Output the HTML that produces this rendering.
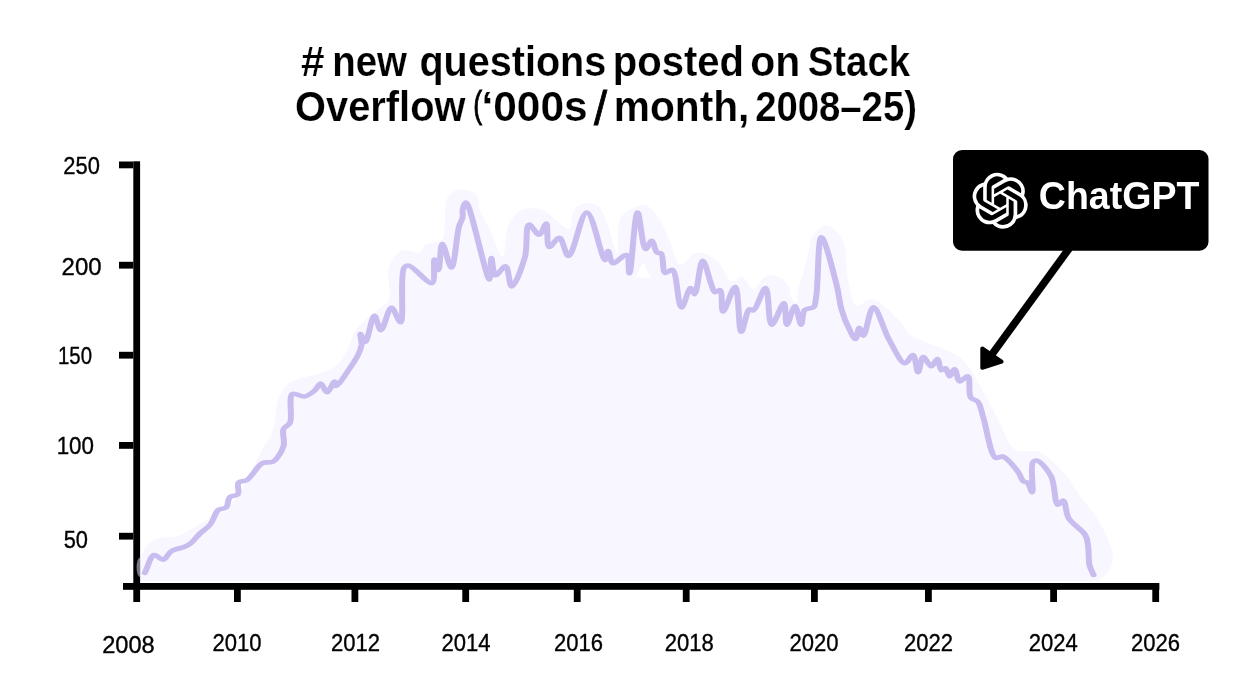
<!DOCTYPE html>
<html><head><meta charset="utf-8"><style>
html,body{margin:0;padding:0;background:#fff;width:1239px;height:690px;overflow:hidden}
svg{display:block;font-family:"Liberation Sans",sans-serif;will-change:transform}
</style></head><body>
<svg width="1239" height="690" viewBox="0 0 1239 690">
<defs><filter id="hb" x="-5%" y="-5%" width="110%" height="110%"><feGaussianBlur stdDeviation="0.45"/></filter></defs>
<path d="M137.0,581.0 C137.7,577.3 138.3,573.7 139.0,570.0 C139.7,566.1 139.8,561.9 141.0,558.0 C142.2,554.1 143.3,549.7 146.0,546.5 C148.9,543.1 153.2,540.3 158.0,538.5 C163.6,536.4 171.1,538.3 178.0,536.0 C186.6,533.2 196.2,526.1 205.0,521.0 C213.6,516.0 222.1,513.7 230.0,505.5 C241.8,493.3 254.8,462.4 262.6,448.7 C267.0,440.9 270.4,437.6 273.0,430.4 C276.1,421.6 275.0,407.5 278.3,399.1 C280.9,392.7 283.8,387.4 288.7,383.5 C294.0,379.3 303.5,377.5 309.6,375.7 C314.1,374.4 317.5,374.6 321.7,373.0 C326.9,371.0 333.8,368.3 338.3,364.0 C342.9,359.6 345.9,352.3 348.7,346.7 C351.1,341.9 352.1,336.9 354.5,332.8 C356.6,329.1 358.8,326.3 362.0,323.0 C366.0,318.9 372.3,314.5 377.0,310.5 C381.2,306.9 386.4,305.2 388.7,300.1 C391.9,292.9 386.4,277.2 388.7,268.8 C390.4,262.4 394.4,256.1 397.9,253.1 C400.3,251.0 402.8,250.3 405.8,250.0 C409.5,249.7 415.4,253.8 418.7,252.6 C421.6,251.6 422.1,246.9 425.2,244.9 C429.2,242.2 438.9,242.9 442.0,239.7 C444.4,237.2 443.9,233.8 444.6,229.4 C445.8,221.9 444.0,205.0 447.1,198.4 C448.9,194.5 452.1,192.2 454.9,190.7 C457.3,189.5 459.9,189.3 462.6,189.4 C465.8,189.5 470.3,190.3 473.0,192.0 C475.3,193.5 477.0,195.8 478.1,198.4 C479.3,201.3 478.2,204.7 479.4,208.7 C481.3,215.0 487.2,224.1 491.0,232.0 C494.9,240.2 499.7,257.4 502.6,257.0 C505.8,256.6 504.7,232.8 508.7,224.6 C511.7,218.4 515.7,213.0 520.9,210.4 C526.3,207.7 534.1,207.5 541.0,209.4 C550.1,211.9 564.8,230.6 569.5,228.7 C572.6,227.4 570.8,218.0 572.5,214.0 C573.9,210.8 575.6,207.8 578.0,206.0 C580.2,204.3 583.1,203.3 586.0,203.0 C589.3,202.7 594.0,203.0 597.0,205.0 C600.4,207.2 602.2,211.4 604.7,216.5 C608.9,225.1 614.6,253.3 617.2,253.0 C619.6,252.7 616.2,226.1 620.2,218.5 C622.9,213.4 627.9,210.6 632.4,208.4 C636.7,206.3 642.3,204.0 646.6,205.4 C651.7,207.1 656.2,214.8 660.0,220.6 C664.2,227.0 666.9,235.2 670.3,242.5 C673.7,249.9 675.7,263.6 680.4,264.8 C684.7,265.9 690.7,253.4 696.7,252.6 C702.9,251.8 711.4,256.2 717.0,260.7 C723.0,265.5 726.0,279.4 731.1,281.0 C734.6,282.1 738.8,276.0 742.3,276.9 C746.4,277.9 749.6,289.1 753.4,289.1 C757.2,289.1 761.1,278.7 765.0,276.7 C767.7,275.3 770.4,275.2 773.2,275.5 C776.2,275.8 779.9,277.0 782.5,279.0 C785.3,281.1 788.0,285.1 789.4,288.3 C790.6,291.1 789.7,294.6 791.0,297.0 C792.2,299.2 795.2,302.6 796.4,302.2 C797.9,301.7 797.0,294.3 798.0,290.0 C799.2,284.8 801.6,279.3 803.3,273.2 C805.3,266.1 807.5,256.7 809.1,250.0 C810.3,244.9 809.8,240.3 812.3,236.4 C815.2,231.9 821.7,225.0 826.5,225.2 C831.8,225.4 839.0,233.3 842.7,240.4 C847.6,249.9 845.4,268.4 848.0,280.0 C850.2,289.5 851.3,303.0 856.2,305.4 C860.2,307.3 866.6,298.3 872.5,299.3 C881.0,300.7 894.6,315.9 900.9,322.6 C904.8,326.7 904.4,329.9 909.0,333.8 C918.5,341.7 949.2,348.2 961.7,359.1 C971.6,367.7 975.8,379.2 982.0,389.5 C988.0,399.5 992.7,410.0 998.2,420.0 C1003.7,430.0 1007.3,444.5 1015.1,449.6 C1021.8,454.0 1032.0,448.7 1039.9,452.3 C1049.6,456.6 1060.6,469.3 1067.4,477.1 C1072.4,482.9 1074.1,487.4 1078.5,493.7 C1084.5,502.3 1094.7,513.3 1100.5,524.0 C1106.1,534.4 1112.6,548.3 1112.9,557.0 C1113.1,562.5 1111.3,566.9 1108.8,570.8 C1106.3,574.7 1101.3,578.9 1097.7,580.4 C1095.1,581.5 1092.6,580.8 1090.0,581.0 Z" fill="#f8f6fe" filter="url(#hb)"/>
<path d='M643.2,263.5 L636.5,277 L650.1,277.5 Z' fill='#fff' stroke='#fff' stroke-width='1.2' stroke-linejoin='round'/>
<path transform="scale(1.3,1)" d="M111.4,572.9 C113.8,566.9 115.5,555.9 118.6,555.0 C120.6,554.4 123.5,560.1 125.5,559.7 C127.9,559.3 129.0,553.4 131.7,551.2 C134.6,548.9 139.8,548.1 142.5,546.5 C144.4,545.4 145.4,544.7 146.9,543.2 C149.1,540.9 151.4,536.6 153.8,533.5 C156.3,530.4 159.6,528.0 161.8,524.4 C164.4,520.3 165.2,512.7 167.9,510.0 C169.7,508.3 172.5,509.1 173.9,507.4 C175.8,505.3 175.0,499.1 176.9,497.0 C178.4,495.3 181.7,496.1 182.9,494.4 C184.6,492.1 181.9,484.9 183.5,482.6 C184.8,480.8 187.8,481.8 190.0,480.0 C193.8,477.0 197.8,465.6 202.0,463.0 C204.6,461.4 207.7,463.4 210.0,461.7 C213.4,459.2 216.7,451.6 218.1,446.1 C219.4,440.7 216.7,433.3 218.1,429.1 C219.1,426.2 221.9,425.8 223.1,422.6 C225.3,416.6 221.5,396.4 225.1,393.9 C227.1,392.5 231.3,397.0 234.2,396.5 C237.1,396.0 240.0,392.7 242.2,390.4 C244.1,388.3 245.2,383.4 246.7,383.5 C248.3,383.6 249.9,392.2 251.5,392.2 C253.4,392.2 256.2,381.4 257.3,381.5 C258.0,381.6 257.7,385.9 258.5,386.0 C260.2,386.2 266.2,373.6 269.2,368.0 C271.6,363.4 273.9,359.1 275.4,355.0 C276.7,351.5 277.7,348.4 278.1,345.0 C278.4,341.4 276.7,334.2 277.3,334.0 C277.8,333.9 279.7,342.0 280.9,341.9 C283.1,341.7 285.7,315.9 288.0,315.8 C289.7,315.7 291.1,330.1 293.0,330.1 C295.4,330.1 298.3,308.0 301.1,307.9 C303.4,307.8 306.4,322.6 308.1,322.3 C311.2,321.7 307.4,274.3 310.8,268.0 C311.7,266.2 312.7,265.4 314.2,265.5 C318.0,265.8 328.9,284.3 332.2,283.1 C335.3,281.9 333.0,259.7 334.2,259.6 C334.9,259.5 336.4,270.1 337.2,270.0 C338.6,269.9 338.5,244.2 340.2,244.0 C341.9,243.9 345.3,267.6 347.2,267.5 C349.8,267.3 351.1,235.2 353.1,226.5 C354.0,222.4 355.4,220.5 355.8,217.5 C356.3,214.7 355.5,211.6 356.0,209.0 C356.5,206.6 357.4,202.4 358.5,202.5 C362.0,202.7 373.8,279.6 376.5,279.4 C377.9,279.3 377.1,258.1 378.0,258.1 C378.8,258.1 379.0,274.7 381.2,275.3 C383.0,275.8 386.9,265.7 388.9,266.2 C391.5,266.8 391.5,286.4 393.6,286.5 C396.2,286.6 401.5,267.3 403.8,257.1 C406.0,246.7 404.0,225.4 406.9,224.6 C408.8,224.1 412.5,235.0 414.7,234.8 C416.9,234.6 418.9,223.4 420.2,223.6 C421.9,223.9 420.0,246.2 422.5,247.0 C424.2,247.5 428.0,237.4 430.3,237.8 C433.2,238.3 434.7,256.1 437.3,256.0 C441.3,255.9 446.8,212.4 451.4,212.5 C456.2,212.6 462.7,260.1 465.4,260.1 C466.6,260.1 466.8,251.0 467.8,251.0 C468.9,251.0 469.3,262.5 471.6,263.2 C473.9,263.9 479.6,254.1 481.8,255.0 C484.3,256.0 483.2,273.3 484.2,273.3 C485.8,273.3 488.0,212.6 490.4,212.5 C492.3,212.4 493.9,248.5 496.6,249.0 C498.0,249.3 499.9,240.8 501.3,240.9 C502.9,241.0 503.6,250.8 505.5,252.6 C506.4,253.5 507.7,252.6 508.6,253.6 C510.7,256.0 509.3,271.7 511.7,272.9 C513.1,273.6 515.6,269.1 517.2,269.8 C521.0,271.6 521.3,307.2 524.2,307.4 C526.2,307.6 529.2,288.2 531.2,288.1 C532.4,288.0 533.3,294.3 534.3,294.2 C536.5,293.9 538.2,260.8 540.5,260.7 C542.5,260.6 545.1,277.2 546.8,283.0 C548.0,286.8 548.4,291.6 549.9,292.2 C551.0,292.6 552.8,289.6 553.8,290.1 C556.1,291.3 554.4,311.2 556.2,311.4 C558.1,311.7 563.2,286.8 565.5,287.1 C568.5,287.5 567.9,331.5 570.2,331.7 C571.9,331.8 573.9,310.8 576.5,309.4 C577.4,308.9 578.5,310.9 579.5,310.4 C582.4,309.1 586.6,287.8 588.9,288.1 C591.8,288.5 590.7,324.2 593.6,324.6 C595.9,324.9 601.1,303.0 603.0,303.3 C604.9,303.6 603.8,324.4 605.3,324.6 C606.7,324.8 609.7,306.2 611.5,306.3 C613.3,306.4 615.0,324.6 616.2,324.6 C617.3,324.6 617.2,312.7 618.8,310.3 C619.7,309.1 620.8,309.0 621.9,308.5 C623.1,308.0 624.8,308.3 625.8,307.2 C627.4,305.4 627.2,301.2 627.9,296.0 C629.5,284.1 629.0,237.6 631.8,237.4 C634.5,237.2 641.1,272.5 643.7,285.7 C645.5,294.8 645.6,301.4 647.2,308.9 C648.8,316.1 651.3,324.2 653.5,329.7 C655.0,333.5 656.8,339.1 658.1,339.0 C659.4,338.9 659.9,327.8 661.0,327.7 C661.9,327.6 662.9,335.9 664.1,335.8 C666.2,335.7 668.8,307.5 671.9,307.4 C675.2,307.3 679.4,329.1 683.6,338.8 C687.5,347.6 692.4,362.9 696.1,363.2 C698.3,363.4 700.7,354.7 702.3,355.0 C704.4,355.5 704.9,372.3 706.2,372.3 C707.5,372.3 708.2,357.4 710.2,357.1 C711.8,356.8 714.5,366.2 716.4,366.2 C718.1,366.2 719.8,358.9 721.1,359.1 C722.5,359.3 722.6,369.7 724.2,370.3 C725.0,370.6 726.4,367.9 727.3,368.2 C728.7,368.6 729.2,376.2 730.4,376.3 C731.5,376.4 733.1,369.1 734.3,369.2 C735.8,369.3 736.2,380.8 738.2,381.4 C739.8,381.9 743.0,375.7 744.5,376.3 C746.9,377.3 744.4,393.5 746.8,397.6 C748.1,399.9 750.8,399.5 752.2,401.7 C754.5,405.1 754.8,411.3 756.5,417.9 C759.0,428.3 761.6,455.3 766.0,457.9 C767.6,458.9 769.4,455.9 771.3,456.5 C774.8,457.7 780.3,467.0 783.0,471.6 C785.0,475.1 785.5,479.6 787.2,481.3 C788.2,482.2 789.5,481.6 790.4,482.6 C792.0,484.3 793.2,492.4 794.0,492.3 C795.4,492.1 792.2,465.6 794.6,462.0 C795.4,460.8 796.6,460.3 797.8,460.6 C800.5,461.4 805.8,469.6 808.4,475.8 C811.7,483.6 811.0,503.8 813.7,504.7 C814.9,505.1 816.7,500.3 817.9,500.6 C820.0,501.2 819.5,512.9 822.2,518.5 C825.0,524.4 832.5,529.8 834.8,535.0 C836.6,538.8 836.5,541.8 837.0,546.0 C837.7,551.5 837.1,560.0 838.1,565.3 C838.8,569.1 840.2,571.8 841.2,575.0" fill="none" stroke="#c8bdee" stroke-width="4.6" stroke-linecap="round" stroke-linejoin="round"/>
<rect x="133.3" y="161.3" width="6.8" height="440.7" fill="#000"/>
<rect x="123" y="583" width="1036.3" height="6.8" fill="#000"/>
<rect x="119" y="161.5" width="14.300000000000011" height="6.8" fill="#000"/>
<rect x="119" y="261.8" width="14.300000000000011" height="6.8" fill="#000"/>
<rect x="119" y="351.8" width="14.300000000000011" height="6.8" fill="#000"/>
<rect x="119" y="442" width="14.300000000000011" height="6.8" fill="#000"/>
<rect x="119" y="532.8" width="14.300000000000011" height="6.8" fill="#000"/>
<rect x="234" y="583" width="6.8" height="19" fill="#000"/>
<rect x="351.5" y="583" width="6.8" height="19" fill="#000"/>
<rect x="462.3" y="583" width="6.8" height="19" fill="#000"/>
<rect x="573.8" y="583" width="6.8" height="19" fill="#000"/>
<rect x="682.8" y="583" width="6.8" height="19" fill="#000"/>
<rect x="811" y="583" width="6.8" height="19" fill="#000"/>
<rect x="925" y="583" width="6.8" height="19" fill="#000"/>
<rect x="1050.2" y="583" width="6.8" height="19" fill="#000"/>
<rect x="1152.3" y="583" width="6.8" height="19" fill="#000"/>
<text x="99.8" y="174.4" text-anchor="end" stroke="#000" stroke-width="0.35" font-size="23" textLength="36.5" lengthAdjust="spacingAndGlyphs">250</text>
<text x="101.6" y="275.4" text-anchor="end" stroke="#000" stroke-width="0.35" font-size="23" textLength="40" lengthAdjust="spacingAndGlyphs">200</text>
<text x="92" y="364.4" text-anchor="end" stroke="#000" stroke-width="0.35" font-size="23" textLength="34" lengthAdjust="spacingAndGlyphs">150</text>
<text x="94" y="454.4" text-anchor="end" stroke="#000" stroke-width="0.35" font-size="23" textLength="37.3" lengthAdjust="spacingAndGlyphs">100</text>
<text x="88" y="548.4" text-anchor="end" stroke="#000" stroke-width="0.35" font-size="23" textLength="24.3" lengthAdjust="spacingAndGlyphs">50</text>
<text x="102.2" y="653.2" stroke="#000" stroke-width="0.35" font-size="23" textLength="52.5" lengthAdjust="spacingAndGlyphs">2008</text>
<text x="212.4" y="650.9" stroke="#000" stroke-width="0.35" font-size="23" textLength="49" lengthAdjust="spacingAndGlyphs">2010</text>
<text x="331" y="650.9" stroke="#000" stroke-width="0.35" font-size="23" textLength="49" lengthAdjust="spacingAndGlyphs">2012</text>
<text x="441.5" y="650.9" stroke="#000" stroke-width="0.35" font-size="23" textLength="49" lengthAdjust="spacingAndGlyphs">2014</text>
<text x="553.9" y="650.9" stroke="#000" stroke-width="0.35" font-size="23" textLength="49" lengthAdjust="spacingAndGlyphs">2016</text>
<text x="664.7" y="650.9" stroke="#000" stroke-width="0.35" font-size="23" textLength="49" lengthAdjust="spacingAndGlyphs">2018</text>
<text x="789.5" y="650.9" stroke="#000" stroke-width="0.35" font-size="23" textLength="49" lengthAdjust="spacingAndGlyphs">2020</text>
<text x="904" y="650.9" stroke="#000" stroke-width="0.35" font-size="23" textLength="49" lengthAdjust="spacingAndGlyphs">2022</text>
<text x="1028.8" y="650.9" stroke="#000" stroke-width="0.35" font-size="23" textLength="49" lengthAdjust="spacingAndGlyphs">2024</text>
<text x="1131" y="650.9" stroke="#000" stroke-width="0.35" font-size="23" textLength="49" lengthAdjust="spacingAndGlyphs">2026</text>
<path d='M140,557.6 A3.4,9.7 0 0 0 140,577 Z' fill='#7a7580'/>
<line x1='1069.5' y1='248' x2='990' y2='357' stroke='#000' stroke-width='7.5'/><path d='M982.3,348.5 L1001.6,361.7 L982.3,367.8 Z' fill='#000' stroke='#000' stroke-width='4' stroke-linejoin='round'/>
<rect x="953" y="150" width="255.5" height="100.7" rx="9" fill="#000"/>
<g transform="translate(972.2,172.8) scale(2.33)"><path d="M22.2819 9.8211a5.9847 5.9847 0 0 0-.5157-4.9108 6.0462 6.0462 0 0 0-6.5098-2.9A6.0651 6.0651 0 0 0 4.9807 4.1818a5.9847 5.9847 0 0 0-3.9977 2.9 6.0462 6.0462 0 0 0 .7427 7.0966 5.98 5.98 0 0 0 .511 4.9107 6.051 6.051 0 0 0 6.5146 2.9001A5.9847 5.9847 0 0 0 13.2599 24a6.0557 6.0557 0 0 0 5.7718-4.2058 5.9894 5.9894 0 0 0 3.9977-2.9001 6.0557 6.0557 0 0 0-.7475-7.0729zm-9.022 12.6081a4.4755 4.4755 0 0 1-2.8764-1.0408l.1419-.0804 4.7783-2.7582a.7948.7948 0 0 0 .3927-.6813v-6.7369l2.02 1.1686a.071.071 0 0 1 .038.052v5.5826a4.504 4.504 0 0 1-4.4945 4.4944zm-9.6607-4.1254a4.4708 4.4708 0 0 1-.5346-3.0137l.142.0852 4.783 2.7582a.7712.7712 0 0 0 .7806 0l5.8428-3.3685v2.3324a.0804.0804 0 0 1-.0332.0615L9.74 19.9502a4.4992 4.4992 0 0 1-6.1408-1.6464zM2.3408 7.8956a4.485 4.485 0 0 1 2.3655-1.9728V11.6a.7664.7664 0 0 0 .3879.6765l5.8144 3.3543-2.0201 1.1685a.0757.0757 0 0 1-.071 0l-4.8303-2.7865A4.504 4.504 0 0 1 2.3408 7.872zm16.5963 3.8558L13.1038 8.364 15.1192 7.2a.0757.0757 0 0 1 .071 0l4.8303 2.7913a4.4944 4.4944 0 0 1-.6765 8.1042v-5.6772a.79.79 0 0 0-.407-.667zm2.0107-3.0231l-.142-.0852-4.7735-2.7818a.7759.7759 0 0 0-.7854 0L9.409 9.2297V6.8974a.0662.0662 0 0 1 .0284-.0615l4.8303-2.7866a4.4992 4.4992 0 0 1 6.6802 4.66zM8.3065 12.863l-2.02-1.1638a.0804.0804 0 0 1-.038-.0567V6.0742a4.4992 4.4992 0 0 1 7.3757-3.4537l-.142.0805L8.704 5.459a.7948.7948 0 0 0-.3927.6813zm1.0976-2.3654l2.602-1.4998 2.6069 1.4998v2.9994l-2.5974 1.4997-2.6067-1.4997Z" fill="#fff"/></g>
<text x="1038.8" y="209.4" font-size="38" font-weight="bold" fill="#fff" textLength="160.6" lengthAdjust="spacingAndGlyphs">ChatGPT</text>
<text x="301.0" y="75.8" font-size="42.4" font-weight="bold" textLength="23.58" lengthAdjust="spacingAndGlyphs" stroke="#fff" stroke-width="0.2">#</text>
<text x="332.28" y="75.8" font-size="42.4" font-weight="bold" textLength="74.72" lengthAdjust="spacingAndGlyphs" stroke="#fff" stroke-width="0.2">new</text>
<text x="419.43" y="75.8" font-size="42.4" font-weight="bold" textLength="186.82" lengthAdjust="spacingAndGlyphs" stroke="#fff" stroke-width="0.2">questions</text>
<text x="612.87" y="75.8" font-size="42.4" font-weight="bold" textLength="131.22" lengthAdjust="spacingAndGlyphs" stroke="#fff" stroke-width="0.2">posted</text>
<text x="750.37" y="75.8" font-size="42.4" font-weight="bold" textLength="49.92" lengthAdjust="spacingAndGlyphs" stroke="#fff" stroke-width="0.2">on</text>
<text x="807.69" y="75.8" font-size="42.4" font-weight="bold" textLength="102.52" lengthAdjust="spacingAndGlyphs" stroke="#fff" stroke-width="0.2">Stack</text>
<text x="295.12" y="121" font-size="42.4" font-weight="bold" textLength="170.31" lengthAdjust="spacingAndGlyphs" stroke="#fff" stroke-width="0.2">Overflow</text>
<text x="473.3" y="116.7" font-size="37.6" font-weight="normal" textLength="8.9" lengthAdjust="spacingAndGlyphs" stroke="#000" stroke-width="0.9">(</text>
<text x="481.5" y="121" font-size="42.4" font-weight="bold" textLength="106.1" lengthAdjust="spacingAndGlyphs" stroke="#fff" stroke-width="0.2">‘000s</text>
<text x="594.1" y="124.5" font-size="48.6" font-weight="normal" textLength="13.05" lengthAdjust="spacingAndGlyphs" stroke="#000" stroke-width="0.9">/</text>
<text x="613.82" y="121" font-size="42.4" font-weight="bold" textLength="135.57" lengthAdjust="spacingAndGlyphs" stroke="#fff" stroke-width="0.2">month,</text>
<text x="755.2" y="121" font-size="42.4" font-weight="bold" textLength="161.75" lengthAdjust="spacingAndGlyphs" stroke="#fff" stroke-width="0.2">2008–25)</text>
</svg>
</body></html>
